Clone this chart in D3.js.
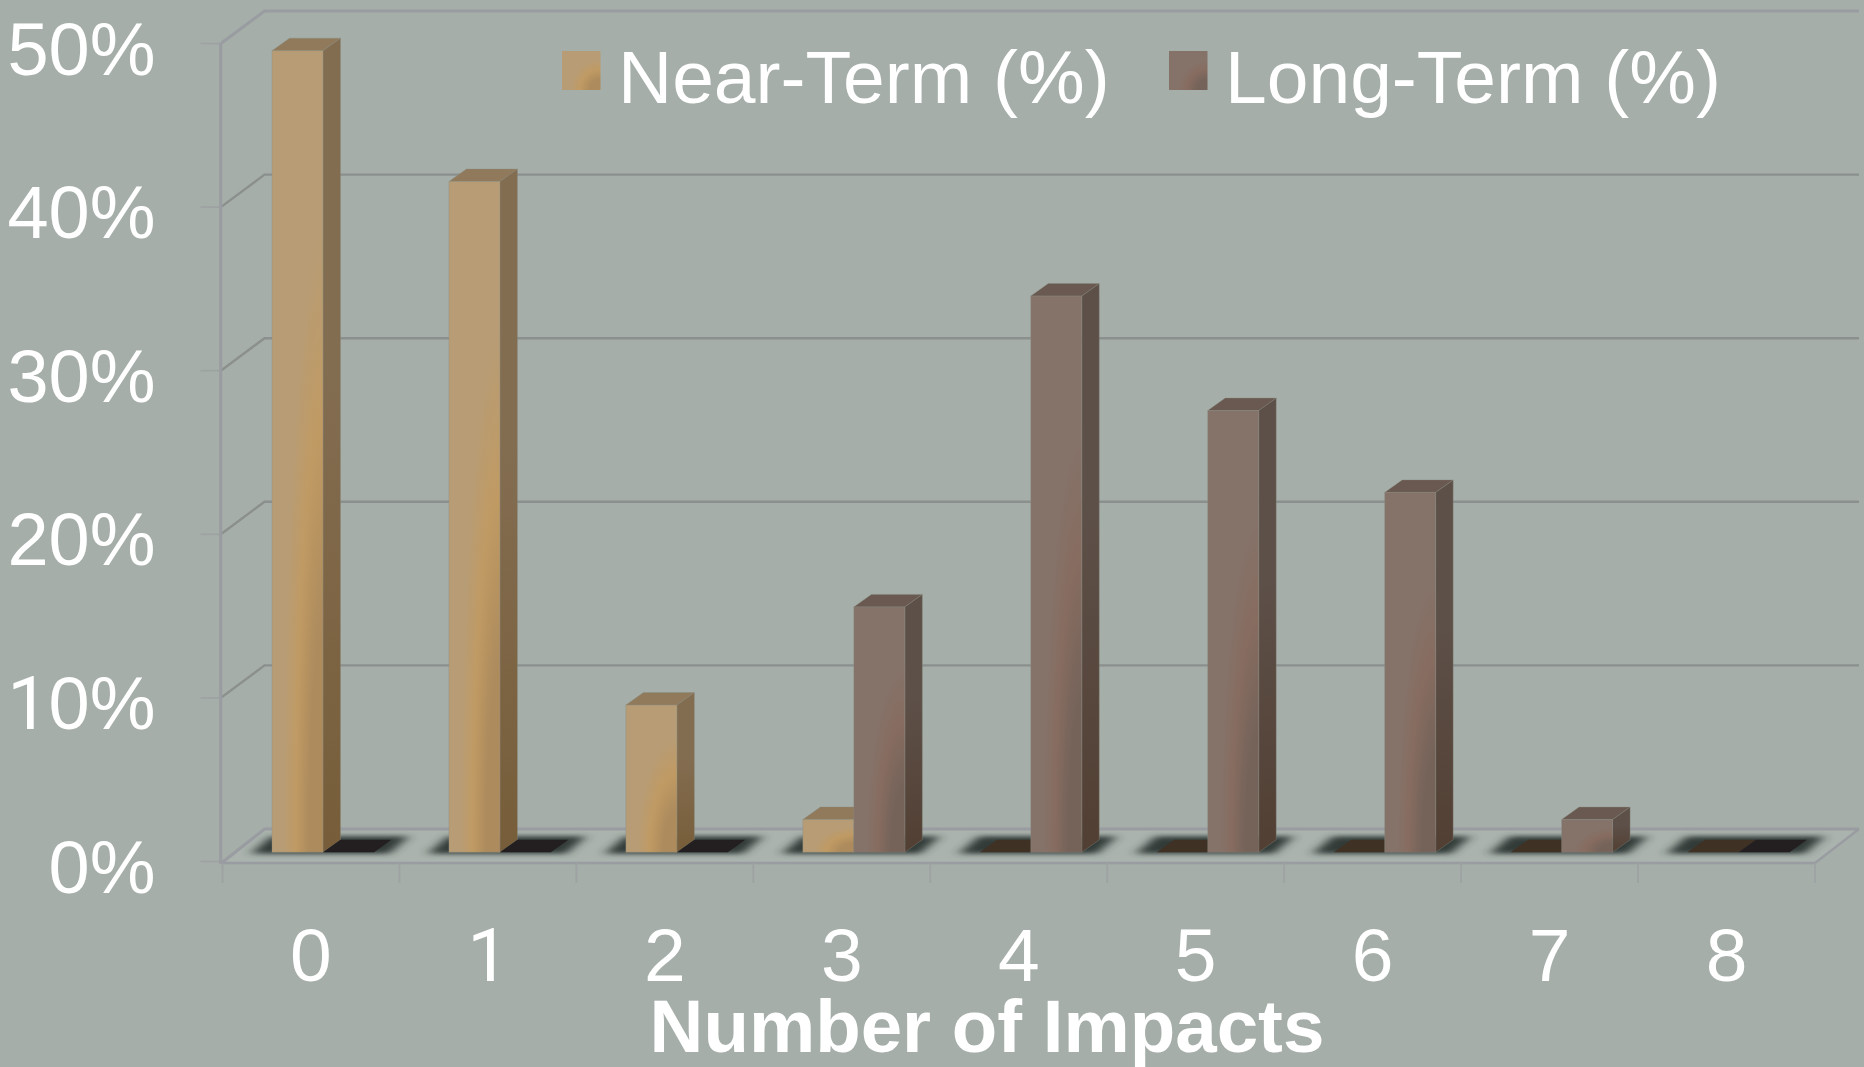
<!DOCTYPE html>
<html>
<head>
<meta charset="utf-8">
<script src="https://cdn.jsdelivr.net/npm/d3@7/dist/d3.min.js"></script>
<style>
  /* Footless numeral one, the rest of the text stays in the Arial-metric face */
  @font-face { font-family: "ChartDigit"; src: local("Roboto"), local("Roboto Regular"); unicode-range: U+31; }
  html, body { margin: 0; padding: 0; background: #a5aea8; overflow: hidden; }
  svg { display: block; }
  text { font-family: "ChartDigit", "Liberation Sans", Arial, sans-serif; fill: #fff; }
</style>
</head>
<body>
<svg id="chart" width="1864" height="1067"></svg>
<script>
// Chart values
const impacts = ["0", "1", "2", "3", "4", "5", "6", "7", "8"];
const nearTerm = [49, 41, 9, 2, 0, 0, 0, 0, 0];
const longTerm = [0, 0, 0, 15, 34, 27, 22, 2, 0];
const percentTicks = [0, 10, 20, 30, 40, 50];
const seriesNames = ["Near-Term (%)", "Long-Term (%)"];
const xTitle = "Number of Impacts";

const svg = d3.select("#chart");
const W = 1864, H = 1067;

// Scales for the front plane of the oblique 3D box
const x = d3.scaleBand().domain(impacts).range([222.5, 1815]);
const y = d3.scaleLinear().domain([0, 50]).range([861, 43]);
const sub = d3.scaleBand().domain(["near", "long"]).range([49.5, 151.5]);

// Depth offsets: wall behind the plot, bar row on the floor, and bar thickness
const wall = { dx: 43, dy: -32 };
const row = { dy: -8.7 };
const depth = { dx: 17.5, dy: -12.5 };

const palette = {
  near: { base: "#b79c75", warm: "#c09a63", deep: "#ad8b5d",
          sideTop: "#836d51", sideBottom: "#775d39", top: "#907a5b", flat: "#403125" },
  long: { base: "#85736a", warm: "#876c60", deep: "#75635a",
          sideTop: "#5d5048", sideBottom: "#523f33", top: "#695950", flat: "#231f20" }
};

const defs = svg.append("defs");
for (const key of ["near", "long"]) {
  const p = palette[key];
  const face = defs.append("radialGradient").attr("id", "face-" + key)
    .attr("cx", 1).attr("cy", 1).attr("r", 0.78);
  [[0, p.deep], [0.35, p.deep], [0.68, p.warm], [1, p.base]].forEach(([o, c]) =>
    face.append("stop").attr("offset", o).attr("stop-color", c));
  const side = defs.append("linearGradient").attr("id", "side-" + key)
    .attr("x1", 0).attr("y1", 0).attr("x2", 0).attr("y2", 1);
  [[0, p.sideTop], [0.4, p.sideTop], [1, p.sideBottom]].forEach(([o, c]) =>
    side.append("stop").attr("offset", o).attr("stop-color", c));
}
defs.append("filter").attr("id", "soft").attr("filterUnits", "userSpaceOnUse")
  .attr("x", 0).attr("y", 800).attr("width", W).attr("height", 90)
  .append("feGaussianBlur").attr("stdDeviation", "6 2.8");

svg.append("rect").attr("width", W).attr("height", H).attr("fill", "#a5aea8");

const poly = pts => pts.map(p => p.join(",")).join(" ");

// Floor plane, slightly lighter than the background
svg.append("polygon").attr("fill", "#aab3ad").attr("points", poly([
  [x.range()[0], 863], [x.range()[1], 863],
  [x.range()[1] + wall.dx + 1, y(0) + wall.dy], [x.range()[0] + wall.dx - 1, y(0) + wall.dy]
]));

// Back wall gridlines with their diagonal returns to the left axis
const grid = svg.append("g").attr("fill", "none");
grid.selectAll("polyline").data(percentTicks).join("polyline")
  .attr("points", d => poly([
    [x.range()[0] - 1, y(d) + (d === 0 ? 2 : 0)],
    [x.range()[0] - 1 + wall.dx, y(d) + wall.dy],
    [x.range()[1] + wall.dx + 1, y(d) + wall.dy]
  ]))
  .attr("stroke", d => (d === 0 || d === 50) ? "#999ca0" : "#8b908e")
  .attr("stroke-width", d => (d === 0 || d === 50) ? 3 : 2.4);

// Floor outline: right return and front edge
svg.append("polyline").attr("fill", "none").attr("stroke", "#999ca0").attr("stroke-width", 2.3)
  .attr("points", poly([
    [x.range()[0] - 2, 863], [x.range()[1], 863], [x.range()[1] + wall.dx + 1, y(0) + wall.dy]
  ]));

// Left axis: ticks and percent labels
const yAxis = svg.append("g").attr("transform", "translate(220.5,0)")
  .call(d3.axisLeft(y).tickValues(percentTicks).tickFormat(d => d + "%").tickSize(20).tickPadding(45));
yAxis.select(".domain").remove();
yAxis.selectAll("line").attr("stroke", "#9ea2a3").attr("stroke-width", 1.8);
yAxis.selectAll("text").attr("dy", 31).style("font-size", "74px").attr("font-family", null);
svg.append("line").attr("x1", 220.7).attr("x2", 220.7).attr("y1", y(50)).attr("y2", 864)
  .attr("stroke", "#999ca0").attr("stroke-width", 3);

// Category tick marks sit on the band edges
const edges = impacts.map(c => x(c)).concat(x.range()[1]);
svg.append("g").selectAll("line").data(edges).join("line")
  .attr("x1", d => d).attr("x2", d => d).attr("y1", 863).attr("y2", 883)
  .attr("stroke", "#9ea2a3").attr("stroke-width", 1.8);

// Category labels
const xAxis = svg.append("g").attr("transform", "translate(0,863)")
  .call(d3.axisBottom(x).tickSize(0));
xAxis.select(".domain").remove();
xAxis.selectAll("text").attr("y", 117.5).attr("dy", 0).style("font-size", "75px").attr("font-family", null);

svg.append("text").attr("x", 987).attr("y", 1052).attr("text-anchor", "middle")
  .style("font-size", "74.5px").style("font-weight", "700").text(xTitle);

const rows = impacts.map((c, i) => [
  { key: "near", cat: c, value: nearTerm[i] },
  { key: "long", cat: c, value: longTerm[i] }
]);
const bars = rows.flat();

// Soft contact shadow under each pair of bars
const baseY = y(0) + row.dy;
const shadows = svg.append("g").attr("filter", "url(#soft)");
shadows.selectAll("polygon").data(impacts).join("polygon")
  .attr("fill", "#323b39")
  .attr("points", c => {
    const l = x(c) + sub.range()[0] - 21, r = x(c) + sub.range()[1] + 15;
    return poly([[l, baseY + 1.5], [r, baseY + 1.5],
      [r + 20, baseY - 16], [l + 20, baseY - 16]]);
  });

// Bars: front face, side face, top face, drawn left to right
const barW = sub.bandwidth();
const barG = svg.append("g").selectAll("g").data(bars).join("g")
  .attr("stroke", "#8a8d80").attr("stroke-opacity", 0.35).attr("stroke-width", 1);

barG.each(function (d) {
  const g = d3.select(this);
  const p = palette[d.key];
  const x0 = x(d.cat) + sub(d.key), x1 = x0 + barW;
  const yT = y(d.value) + row.dy;
  const topFace = [[x0, yT], [x1, yT], [x1 + depth.dx, yT + depth.dy], [x0 + depth.dx, yT + depth.dy]];
  if (d.value === 0) {
    g.append("polygon").attr("points", poly(topFace)).attr("fill", p.flat).attr("stroke", "none");
    return;
  }
  g.append("polygon").attr("points", poly(topFace)).attr("fill", p.top);
  g.append("polygon")
    .attr("points", poly([[x1, yT], [x1 + depth.dx, yT + depth.dy], [x1 + depth.dx, baseY + depth.dy], [x1, baseY]]))
    .attr("fill", `url(#side-${d.key})`);
  g.append("rect").attr("x", x0).attr("y", yT).attr("width", barW).attr("height", baseY - yT)
    .attr("fill", `url(#face-${d.key})`);
});

// Legend
const legendItems = [
  { key: "near", name: seriesNames[0], sx: 562, tx: 618 },
  { key: "long", name: seriesNames[1], sx: 1169, tx: 1225 }
];
const legend = svg.append("g").selectAll("g").data(legendItems).join("g");
legend.append("rect").attr("x", d => d.sx).attr("y", 51).attr("width", 38.5).attr("height", 39)
  .attr("fill", d => `url(#face-${d.key})`);
legend.append("text").attr("x", d => d.tx).attr("y", 103)
  .style("font-size", "75px").text(d => d.name);
</script>
</body>
</html>
